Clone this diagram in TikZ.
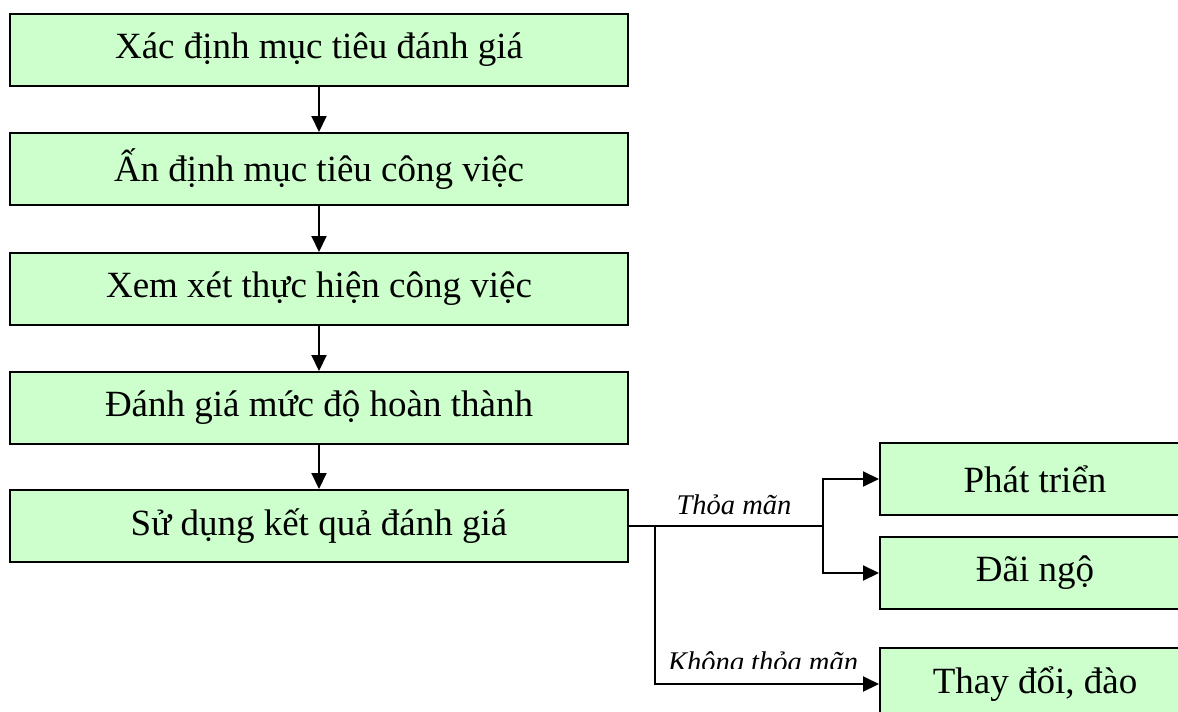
\documentclass[tikz,border=0pt]{standalone}
\usepackage{fontspec}
\setmainfont{Liberation Serif}
\usetikzlibrary{arrows.meta}
\definecolor{boxgreen}{HTML}{CCFFCC}
\tikzset{
  box/.style={draw=black, line width=2pt, fill=boxgreen, minimum height=72pt, inner sep=0pt, font=\fontsize{37}{40}\selectfont},
  flow/.style={line width=2pt, -{Triangle[length=16pt,width=15pt]}},
  link/.style={line width=2pt},
  lbl/.style={font=\fontsize{28.5}{32}\selectfont\itshape, inner sep=0pt}
}
\begin{document}
\begin{tikzpicture}[x=1pt,y=-1pt]
\clip (0,0) rectangle (1178,712);
\useasboundingbox (0,0) rectangle (1178,712);
\node[box, minimum width=618pt] (a) at (319,50) {Xác định mục tiêu đánh giá};
\node[box, minimum width=618pt] (b) at (319,169) {Ấn định mục tiêu công việc};
\node[box, minimum width=618pt] (c) at (319,289) {Xem xét thực hiện công việc};
\node[box, minimum width=618pt] (d) at (319,408) {Đánh giá mức độ hoàn thành};
\node[box, minimum width=618pt] (e) at (319,526) {Sử dụng kết quả đánh giá};
\node[box, minimum width=310pt] (f) at (1035,479) {Phát triển};
\node[box, minimum width=310pt] (g) at (1035,573) {Đãi ngộ};
\node[box, minimum width=310pt] (h) at (1035,684) {Thay đổi, đào};
\draw[flow] (a) -- (b);
\draw[flow] (b) -- (c);
\draw[flow] (c) -- (d);
\draw[flow] (d) -- (e);
\coordinate (j1) at (823,526);
\coordinate (j2) at (655,526);
\draw[link] (e.east) -- (j1);
\draw[flow] (j1) |- (f.west);
\draw[flow] (j1) |- (g.west);
\draw[flow] (j2) |- (h.west);
\node[lbl, anchor=base] (t1) at (734,514) {Thỏa mãn};
\begin{scope}
\clip (600,600) rectangle (878,668);
\node[lbl, anchor=base] (t2) at (763,671) {Không thỏa mãn};
\end{scope}
\end{tikzpicture}
\end{document}
